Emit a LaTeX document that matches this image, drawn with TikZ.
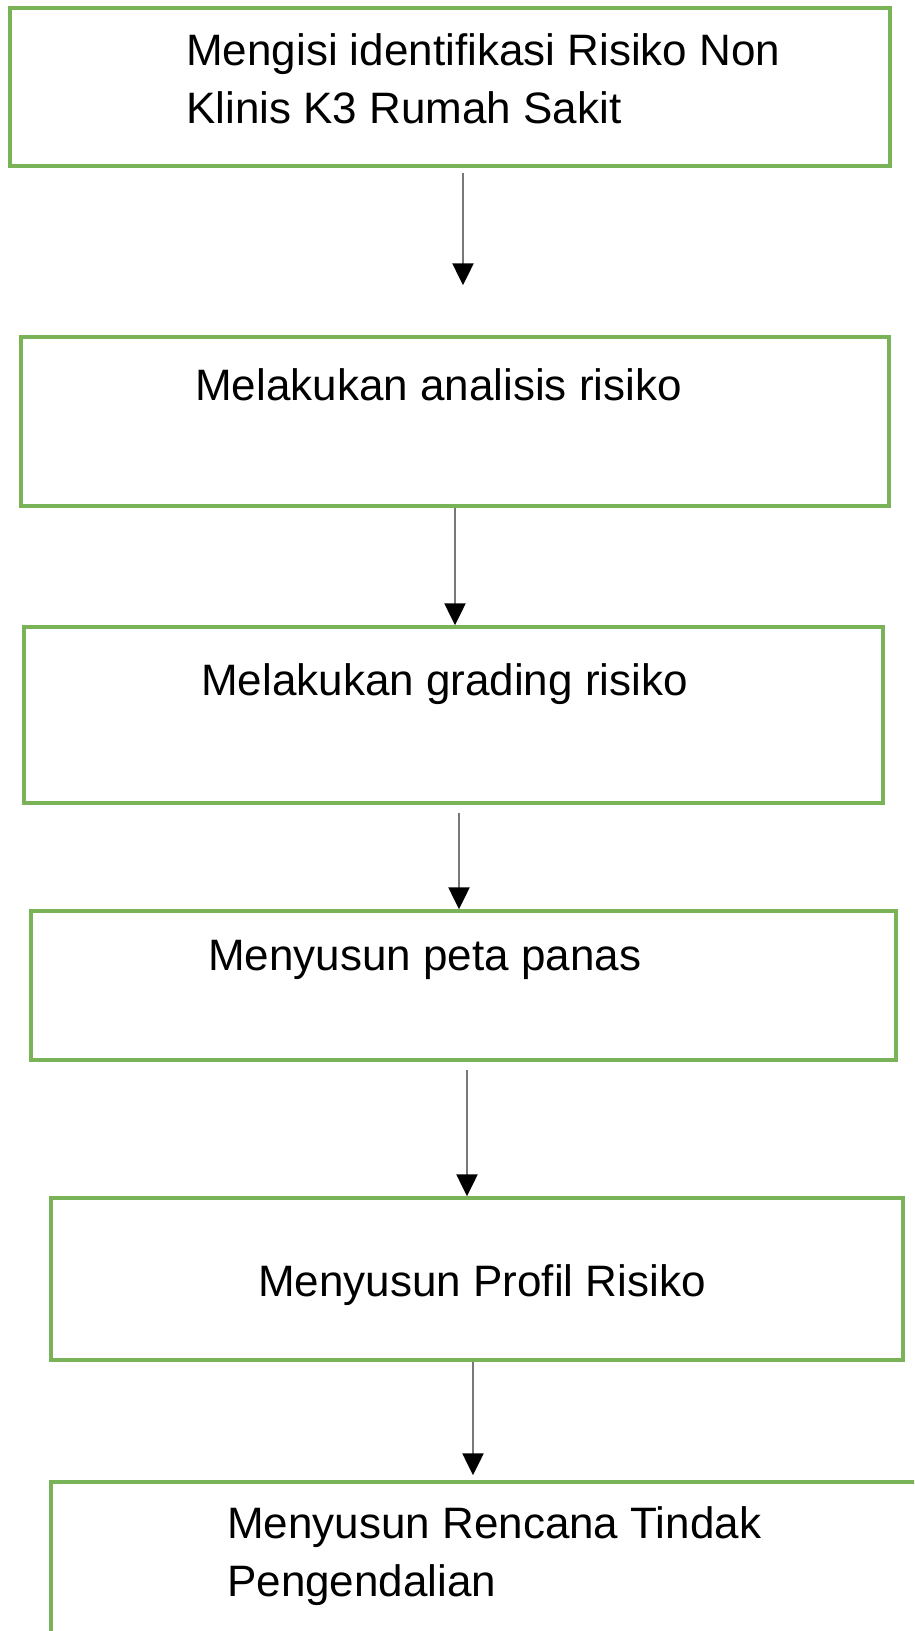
\documentclass[tikz,border=0pt]{standalone}
\usepackage{fontspec}
\setmainfont{Liberation Sans}
\usetikzlibrary{arrows.meta}
\definecolor{boxgreen}{RGB}{122,178,88}
\definecolor{linegray}{RGB}{120,120,120}
\tikzset{
  stepbox/.style={draw=boxgreen, line width=3.5pt, fill=white, rectangle, inner sep=0pt},
  steptext/.style={anchor=base west, inner sep=0pt, font=\fontsize{44}{58.5}\selectfont},
  flow/.style={draw=linegray, line width=2.5pt, -{Triangle[length=22pt,width=21pt,color=black]}}
}
\begin{document}
\begin{tikzpicture}[x=1pt,y=-1pt]
\useasboundingbox (0,0) rectangle (914,1631);
\clip (0,0) rectangle (914,1631);
\fill[white] (0,0) rectangle (914,1631);
% boxes
\node[stepbox, minimum width=880pt, minimum height=158pt] (b1) at (450,87) {};
\node[stepbox, minimum width=868pt, minimum height=169pt] (b2) at (455,421.5) {};
\node[stepbox, minimum width=859pt, minimum height=176pt] (b3) at (453.5,715) {};
\node[stepbox, minimum width=865pt, minimum height=149pt] (b4) at (463.5,985.5) {};
\node[stepbox, minimum width=852pt, minimum height=162pt] (b5) at (477,1279) {};
\node[stepbox, minimum width=889pt, minimum height=198pt] (b6) at (495.5,1581) {};
% texts
\node[steptext] (t1) at (186,65) {\begin{tabular}[t]{@{}l@{}}Mengisi identifikasi Risiko Non\\Klinis K3 Rumah Sakit\end{tabular}};
\node[steptext] (t2) at (195,400) {Melakukan analisis risiko};
\node[steptext] (t3) at (201,695) {Melakukan grading risiko};
\node[steptext] (t4) at (208,970) {Menyusun peta panas};
\node[steptext] (t5) at (258,1296) {Menyusun Profil Risiko};
\node[steptext] (t6) at (227,1538) {\begin{tabular}[t]{@{}l@{}}Menyusun Rencana Tindak\\Pengendalian\end{tabular}};
% connectors
\draw[flow, shorten <=5pt, shorten >=50pt] ([xshift=13pt]b1.south) -- ([xshift=13pt]b1.south |- b2.north);
\draw[flow] (b2.south) -- (b2.south |- b3.north);
\draw[flow, shorten <=8pt] ([xshift=5.5pt]b3.south) -- ([xshift=5.5pt]b3.south |- b4.north);
\draw[flow, shorten <=8pt] ([xshift=3.5pt]b4.south) -- ([xshift=3.5pt]b4.south |- b5.north);
\draw[flow, shorten >=5pt] ([xshift=-4pt]b5.south) -- ([xshift=-4pt]b5.south |- b6.north);
\end{tikzpicture}
\end{document}
